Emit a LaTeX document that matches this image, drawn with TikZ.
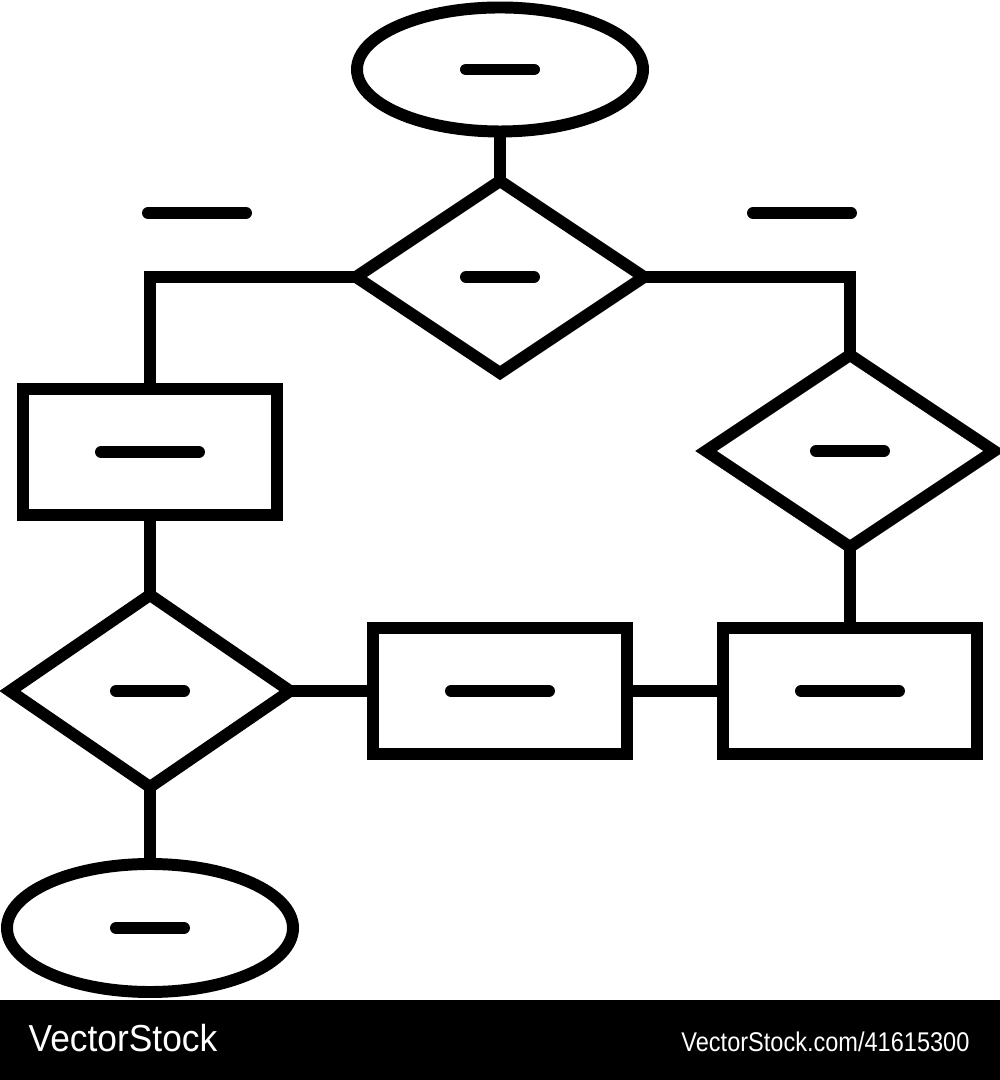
\documentclass[tikz,border=0pt]{standalone}
\usepackage{fontspec}
\newfontfamily\wmfont{Liberation Sans}
\usetikzlibrary{shapes.geometric}

\begin{document}
\begin{tikzpicture}[
	box/.style={draw, line width=3.4pt, rectangle, minimum width=2.54cm, minimum height=1.26cm, inner sep=0pt, outer sep=0pt},
	choice/.style={draw, line width=3.4pt, diamond, minimum width=2.88cm, minimum height=1.92cm, inner sep=0pt, outer sep=0pt},
	term/.style={draw, line width=3.4pt, ellipse, minimum width=2.86cm, minimum height=1.24cm, inner sep=0pt, outer sep=0pt},
	link/.style={line width=3.4pt},
	bar/.style={line width=3.4pt, line cap=round}]
	\useasboundingbox (0,0) rectangle (10,10.8);

	\node[term](e1) at (5.00,10.105) {};
	\node[choice](d1) at (5.00,8.03) {};
	\node[box](r1) at (1.50,6.28) {};
	\node[choice](d2) at (8.50,6.29) {};
	\node[choice, minimum width=2.80cm](d3) at (1.50,3.89) {};
	\node[box](r2) at (5.00,3.89) {};
	\node[box](r3) at (8.50,3.89) {};
	\node[term, minimum height=1.28cm](e2) at (1.50,1.52) {};

	\coordinate(l1) at (1.97,8.67);
	\coordinate(l2) at (8.02,8.67);

	% little bars standing for text
	\draw[bar] ([xshift=-0.34cm]e1.center) -- ([xshift=0.34cm]e1.center);
	\draw[bar] ([xshift=-0.34cm]d1.center) -- ([xshift=0.34cm]d1.center);
	\draw[bar] ([xshift=-0.49cm]r1.center) -- ([xshift=0.49cm]r1.center);
	\draw[bar] ([xshift=-0.34cm]d2.center) -- ([xshift=0.34cm]d2.center);
	\draw[bar] ([xshift=-0.34cm]d3.center) -- ([xshift=0.34cm]d3.center);
	\draw[bar] ([xshift=-0.49cm]r2.center) -- ([xshift=0.49cm]r2.center);
	\draw[bar] ([xshift=-0.49cm]r3.center) -- ([xshift=0.49cm]r3.center);
	\draw[bar] ([xshift=-0.34cm]e2.center) -- ([xshift=0.34cm]e2.center);
	\draw[bar] ([xshift=-0.49cm]l1) -- ([xshift=0.49cm]l1);
	\draw[bar] ([xshift=-0.49cm]l2) -- ([xshift=0.49cm]l2);

	\draw[link](e1.south) -- (d1.north);
	\draw[link](d1.west) -| (r1.north);
	\draw[link](d1.east) -| (d2.north);
	\draw[link](r1.south) -- (d3.north);
	\draw[link](d3.east) -- (r2.west);
	\draw[link](r2.east) -- (r3.west);
	\draw[link](d2.south) -- (r3.north);
	\draw[link](d3.south) -- (e2.north);

	% watermark band
	\fill[black] (0,0) rectangle (10,0.8);
	\node[anchor=base west, text=white, inner sep=0pt, xscale=0.94, font=\wmfont\fontsize{10.7}{12}\selectfont](wm1) at (0.28,0.28) {VectorStock};
	\node[anchor=base east, text=white, inner sep=0pt, xscale=0.87, font=\wmfont\fontsize{7.7}{9}\selectfont](wm2) at (9.70,0.28) {VectorStock.com/41615300};
\end{tikzpicture}
\end{document}
